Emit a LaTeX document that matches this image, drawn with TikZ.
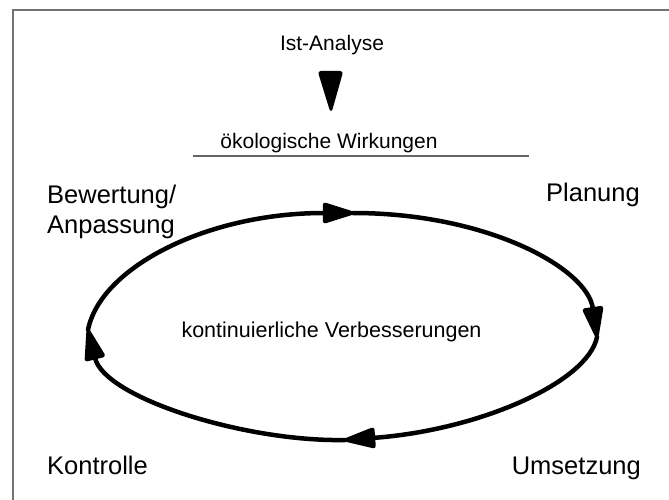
\documentclass[tikz,border=0pt]{standalone}
\usepackage{fontspec}
\setmainfont{Liberation Sans}
\usetikzlibrary{arrows.meta}
\begin{document}
\begin{tikzpicture}[x=1pt,y=-1pt,
  small/.style={font=\fontsize{21}{25}\selectfont, inner sep=0pt},
  big/.style={font=\fontsize{25.5}{30}\selectfont, inner sep=0pt, align=left},
  cyc/.style={line width=4.5pt, line cap=round, -{Triangle[length=36pt,width=21pt,round]}},
  frameline/.style={draw=black!55, line width=2pt},
  rule/.style={draw=black!60, line width=1.3pt}]
\useasboundingbox (0,0) rectangle (669,500);

% outer frame (left and top edges)
\draw[frameline] (13,500) -- (13,10) -- (669,10);

% heading and inflow arrow
\node[small, anchor=base] (ist) at (332,51) {Ist-Analyse};
\filldraw[line width=2pt, line join=round, rounded corners=2pt]
  (319,72) -- (342,72) -- (331,111) -- cycle;
\node[small, anchor=base] (oeko) at (329,148) {ökologische Wirkungen};
\draw[rule] (193,156) -- (529,156);

% phase labels
\node[big, anchor=north west] (bew) at (47,184.5) {Bewertung/\\Anpassung};
\node[big, anchor=base west] (plan) at (546,201) {Planung};
\node[big, anchor=base west] (kontr) at (47,474) {Kontrolle};
\node[big, anchor=base east] (ums) at (641,474) {Umsetzung};
\node[font=\fontsize{21.5}{25}\selectfont, inner sep=0pt, anchor=base] (kvb)
  at (331.5,337) {kontinuierliche Verbesserungen};

% improvement cycle: four curved segments, each ending in an arrow tip
\coordinate (pL) at (88,330);
\coordinate (pT) at (353,213);
\coordinate (pR) at (597,337);
\coordinate (pB) at (345,440);
\draw[cyc] (pL) .. controls (100,268) and (206,213) .. (pT);
\draw[cyc] (pT) .. controls (487,213) and (587,268) .. (pR);
\draw[cyc] (pR) .. controls (588,382) and (480,430) .. (pB);
\draw[cyc] (pB) .. controls (245,442) and (105,398) .. (pL);
\end{tikzpicture}
\end{document}
